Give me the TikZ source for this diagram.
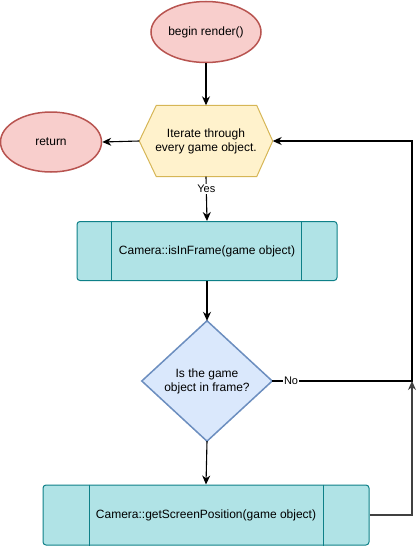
\documentclass[tikz,border=0pt]{standalone}
\usepackage{fontspec}
\setmainfont{Liberation Sans}
\usetikzlibrary{arrows.meta,backgrounds,shapes.geometric}
\definecolor{redfill}{HTML}{F8CECC}
\definecolor{redline}{HTML}{B85450}
\definecolor{yelfill}{HTML}{FFF2CC}
\definecolor{yelline}{HTML}{D6B656}
\definecolor{tealfill}{HTML}{B0E3E6}
\definecolor{tealline}{HTML}{0E8088}
\definecolor{bluefill}{HTML}{DAE8FC}
\definecolor{blueline}{HTML}{6C8EBF}
\tikzset{
  term/.style={ellipse, draw=redline, fill=redfill, line width=1.5pt, inner sep=0pt, font=\fontsize{12}{14}\selectfont},
  box/.style={rectangle, inner sep=0pt, align=center, font=\fontsize{12}{14}\selectfont},
  proc/.style={rectangle, rounded corners=3pt, draw=tealline, fill=tealfill, line width=1pt, inner sep=0pt, font=\fontsize{12}{14}\selectfont},
  conn/.style={draw=black, line width=1.1pt, -{Stealth[length=9pt,width=8pt]}},
  lbl/.style={fill=white, inner sep=1pt, font=\fontsize{11}{13}\selectfont},
}
\begin{document}
\begin{tikzpicture}[x=1pt,y=-1pt]
\useasboundingbox (0,0) rectangle (420,546);
\node[term, minimum width=110pt, minimum height=61pt] (begin) at (206,32) {begin render()};
\node[term, minimum width=101pt, minimum height=60pt] (ret) at (51,142) {return};
\node[box, minimum width=133pt, minimum height=71pt] (hex) at (206,141) {Iterate through\\every game object.};
\node[proc, minimum width=260pt, minimum height=59pt] (p1) at (207,251) {Camera::isInFrame(game object)};
\node[box, minimum width=130pt, minimum height=120pt] (dia) at (207,381) {Is the game\\object in frame?};
\node[proc, minimum width=326pt, minimum height=60pt] (p2) at (206,515) {Camera::getScreenPosition(game object)};
\coordinate (j) at (412,381);
\begin{scope}[on background layer]
  \draw[draw=yelline, fill=yelfill, line width=1pt] (hex.west) -- ([xshift=17pt]hex.north west) -- ([xshift=-16pt]hex.north east) -- (hex.east) -- ([xshift=-16pt]hex.south east) -- ([xshift=17pt]hex.south west) -- cycle;
  \draw[draw=blueline, fill=bluefill, line width=1.5pt] (dia.west) -- (dia.north) -- (dia.east) -- (dia.south) -- cycle;
\end{scope}
\draw[tealline, line width=1pt] ([xshift=35pt]p1.north west) -- ([xshift=35pt]p1.south west);
\draw[tealline, line width=1pt] ([xshift=-36pt]p1.north east) -- ([xshift=-36pt]p1.south east);
\draw[tealline, line width=1pt] ([xshift=47pt]p2.north west) -- ([xshift=47pt]p2.south west);
\draw[tealline, line width=1pt] ([xshift=-46pt]p2.north east) -- ([xshift=-46pt]p2.south east);
\draw[conn] (begin.south) -- (hex.north);
\draw[conn] (hex.west) -- (ret.east);
\draw[conn] (hex.south) -- node[lbl, pos=0.27] {Yes} (p1.north);
\draw[conn] (p1.south) -- (dia.north);
\draw[conn] (dia.south) -- (p2.north);
\draw[conn] (dia.east) -- node[lbl, pos=0.135] {No} (j) |- (hex.east);
\draw[conn, draw=black!75] (p2.east) -| (j);
\end{tikzpicture}
\end{document}
